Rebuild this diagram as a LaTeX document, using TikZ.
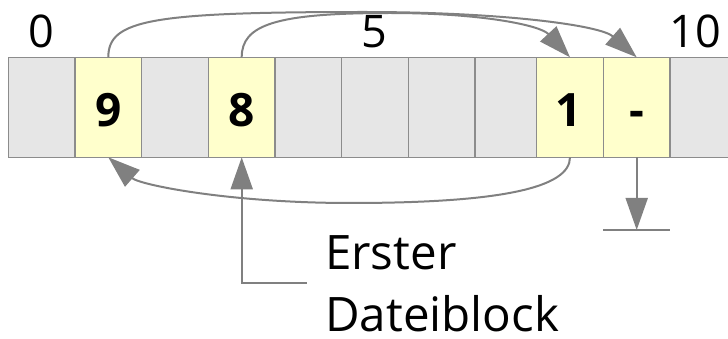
\documentclass[tikz,border=0pt]{standalone}
\usepackage{fontspec}
\setmainfont{Open Sans}
\usetikzlibrary{arrows.meta}
\definecolor{cellgrey}{HTML}{E6E6E6}
\definecolor{cellyellow}{HTML}{FFFFCC}
\definecolor{edge}{HTML}{8C8C8C}
\definecolor{wire}{HTML}{808080}
\tikzset{
  cell/.style={draw=edge, fill=cellgrey, line width=1.5pt, minimum width=66.67pt, minimum height=100pt, inner sep=0pt, outer sep=0pt},
  ycell/.style={cell, fill=cellyellow},
  digit/.style={inner sep=0pt, anchor=base, font=\fontsize{46}{62}\selectfont\bfseries},
  idx/.style={inner sep=0pt, anchor=base, font=\fontsize{45}{60}\selectfont},
  caption/.style={inner sep=0pt, anchor=base west, font=\fontsize{47.5}{64}\selectfont},
  ptr/.style={draw=wire, line width=2pt, -{Triangle[length=32pt,width=22pt]}},
  gline/.style={draw=wire, line width=2pt}
}
\begin{document}
\begin{tikzpicture}[x=1pt, y=-1pt]
\useasboundingbox (0,0) rectangle (728,339);
% grey cells
\node[cell] (c0) at (41.6,107.3) {};
\node[cell] (c2) at (175.0,107.3) {};
\node[cell] (c4) at (308.3,107.3) {};
\node[cell] (c5) at (375.0,107.3) {};
\node[cell] (c6) at (441.7,107.3) {};
\node[cell] (c7) at (508.3,107.3) {};
\node[cell] (c10) at (703.3,107.3) {};
% yellow cells
\node[ycell] (c1) at (108.3,107.3) {};
\node[ycell] (c3) at (241.7,107.3) {};
\node[ycell] (c8) at (570.0,107.3) {};
\node[ycell] (c9) at (636.7,107.3) {};
% cell contents
\node[digit] (t1) at (108.8,126.5) {9};
\node[digit] (t3) at (241.7,126.5) {8};
\node[digit] (t8) at (568.5,126.5) {1};
\node[digit] (t9) at (636.7,126.5) {-};
% index labels
\node[idx] (i0) at (41,47.8) {0};
\node[idx] (i5) at (374,47.8) {5};
\node[idx] (i10) at (695,47.8) {10};
% caption
\node[caption] (cap1) at (325,269) {Erster};
\node[caption] (cap2) at (325,331) {Dateiblock};
% pointers
\draw[ptr] (c1.north) .. controls (108.3,20) and (150,12) .. (364,12)
  .. controls (500,12) and (600,25) .. (c9.north);
\draw[ptr] (c3.north) .. controls (241.7,25) and (275,13) .. (390,13)
  .. controls (480,13) and (540,25) .. (c8.north);
\draw[ptr] (c8.south) .. controls (570,188) and (500,203) .. (350,203)
  .. controls (230,203) and (140,185) .. (c1.south);
% first block marker
\coordinate (e) at (306.7,283);
\draw[ptr] (e) -| (c3.south);
% end of chain
\coordinate (g) at (636.7,230);
\coordinate (gl) at (603.3,230);
\coordinate (gr) at (670,230);
\draw[ptr] (c9.south) -- (g);
\draw[gline] (gl) -- (gr);
\end{tikzpicture}
\end{document}
